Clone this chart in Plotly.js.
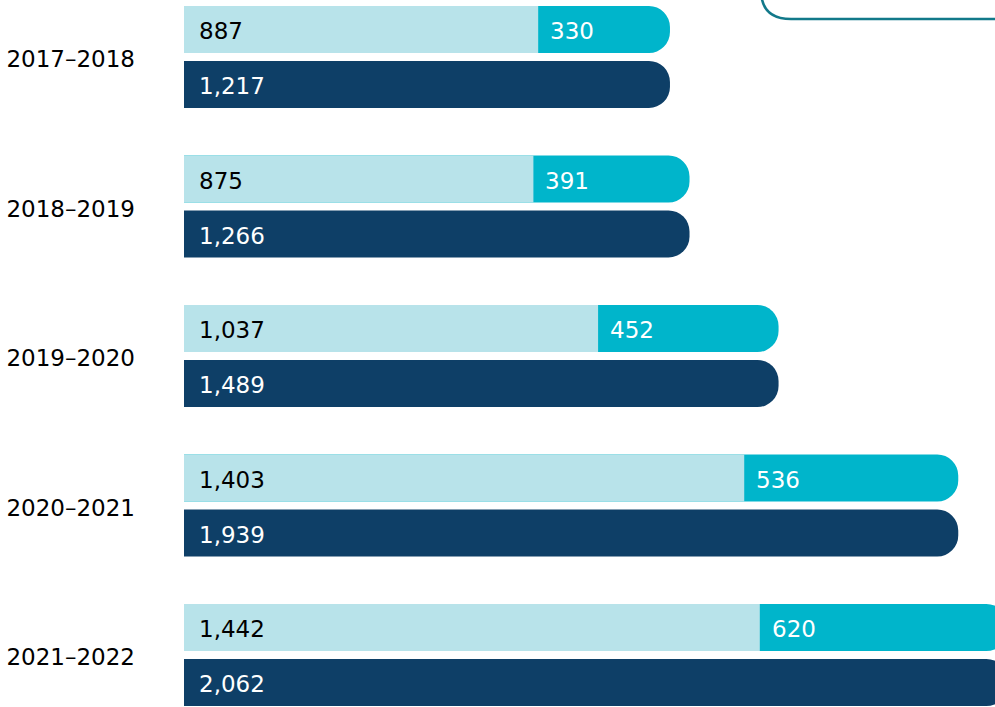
<!DOCTYPE html>
<html>
<head>
<meta charset="utf-8">
<script src="https://cdn.plot.ly/plotly-3.0.1.min.js"></script>
<style>html,body{margin:0;padding:0;background:#fff;}#chart{width:995px;height:707px;}</style>
</head>
<body>
<div id="chart"></div>
<script>
const categories = ['2017–2018', '2018–2019', '2019–2020', '2020–2021', '2021–2022'];
const baseValues = [887, 875, 1037, 1403, 1442];
const addedValues = [330, 391, 452, 536, 620];
const totalValues = [1217, 1266, 1489, 1939, 2062];

const COL_LIGHT = '#b8e3ea';
const COL_CYAN = '#00b5cb';
const COL_DARK = '#0e3f67';
const FONT = 'DejaVu Sans, Liberation Sans, Arial, sans-serif';
const FS = 23;

const barW = 0.3144;
const topOff = -0.341;
const botOff = 0.0268;

const fmt = v => v.toLocaleString('en-US');
const stackEnd = baseValues.map((b, i) => b + addedValues[i]);

const traces = [
  // cyan segment: drawn from zero to the stack end, rounded at its end; the light part covers its left
  {type:'bar', orientation:'h', y:categories, x:stackEnd, width:barW, offset:topOff,
   marker:{color:COL_CYAN, line:{width:0}, cornerradius:21}, hoverinfo:'skip'},
  {type:'bar', orientation:'h', y:categories, x:baseValues, width:barW, offset:topOff,
   marker:{color:COL_LIGHT, line:{width:0}}, hoverinfo:'skip'},
  {type:'bar', orientation:'h', y:categories, x:totalValues, width:barW, offset:botOff,
   marker:{color:COL_DARK, line:{width:0}, cornerradius:21}, hoverinfo:'skip'}
];

const topC = topOff + barW/2;
const botC = botOff + barW/2;
const annotations = [];
categories.forEach((c, i) => {
  annotations.push({x:0, y:i + topC, xref:'x', yref:'y', text:fmt(baseValues[i]), showarrow:false,
    xanchor:'left', yanchor:'middle', xshift:13, yshift:-2, font:{family:FONT, size:FS, color:'#000000'}});
  annotations.push({x:baseValues[i], y:i + topC, xref:'x', yref:'y', text:fmt(addedValues[i]), showarrow:false,
    xanchor:'left', yanchor:'middle', xshift:10, yshift:-2, font:{family:FONT, size:FS, color:'#ffffff'}});
  annotations.push({x:0, y:i + botC, xref:'x', yref:'y', text:fmt(totalValues[i]), showarrow:false,
    xanchor:'left', yanchor:'middle', xshift:13, yshift:-2, font:{family:FONT, size:FS, color:'#ffffff'}});
});

// legend frame (cut off at top-right), pixel -> paper
const L = 184, PW = 811, PH = 707;
const px = v => ((v - L) / PW).toFixed(4);
const py = v => (1 - v / PH).toFixed(4);
const legendPath = `M ${px(761)} ${py(-30)} L ${px(761)} ${py(-10)} Q ${px(761)} ${py(19)} ${px(791)} ${py(19)} L ${px(1010)} ${py(19)}`;

const layout = {
  width:995, height:707,
  margin:{l:184, r:0, t:0, b:0, pad:0},
  paper_bgcolor:'#ffffff', plot_bgcolor:'#ffffff',
  showlegend:false, barmode:'overlay', hovermode:false,
  xaxis:{range:[0, 2031], visible:false, fixedrange:true},
  yaxis:{type:'category', range:[4.348, -0.381], showgrid:false, zeroline:false, showline:false,
    ticks:'', ticklabelstandoff:48, ticklabelshift:-2, tickfont:{family:FONT, size:FS, color:'#000000'}, fixedrange:true},
  annotations:annotations,
  shapes:[{type:'path', xref:'paper', yref:'paper', path:legendPath,
    line:{color:'#12798a', width:2.5}, fillcolor:'rgba(0,0,0,0)'}]
};

Plotly.newPlot('chart', traces, layout, {displayModeBar:false, staticPlot:true});
</script>
</body>
</html>
